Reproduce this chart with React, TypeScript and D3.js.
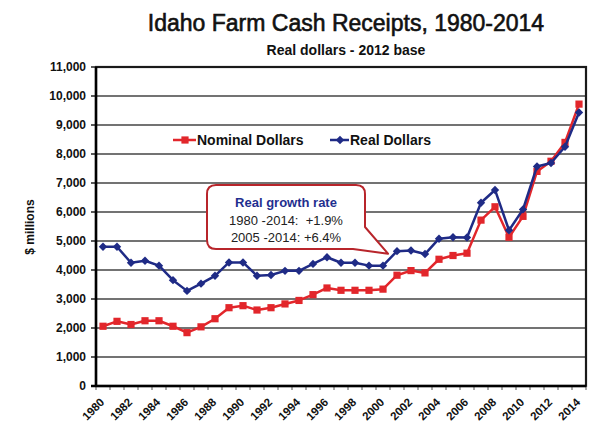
import React from 'react';
import * as d3 from 'd3';

const years = [1980, 1981, 1982, 1983, 1984, 1985, 1986, 1987, 1988, 1989, 1990, 1991, 1992, 1993, 1994, 1995, 1996, 1997, 1998, 1999, 2000, 2001, 2002, 2003, 2004, 2005, 2006, 2007, 2008, 2009, 2010, 2011, 2012, 2013, 2014];
const nominalDollars = [2060, 2230, 2120, 2250, 2250, 2060, 1840, 2040, 2320, 2700, 2770, 2620, 2700, 2830, 2950, 3150, 3380, 3300, 3300, 3300, 3340, 3820, 3980, 3900, 4370, 4500, 4580, 5720, 6180, 5130, 5850, 7400, 7750, 8400, 9720];
const realDollars = [4800, 4800, 4250, 4320, 4150, 3650, 3280, 3530, 3800, 4260, 4260, 3800, 3830, 3970, 3970, 4210, 4440, 4250, 4250, 4150, 4150, 4650, 4670, 4550, 5080, 5130, 5120, 6320, 6760, 5370, 6090, 7570, 7690, 8250, 9430];
const yTicks = [0, 1000, 2000, 3000, 4000, 5000, 6000, 7000, 8000, 9000, 10000, 11000];
const xLabelYears = [1980, 1982, 1984, 1986, 1988, 1990, 1992, 1994, 1996, 1998, 2000, 2002, 2004, 2006, 2008, 2010, 2012, 2014];
const titleText = 'Idaho Farm Cash Receipts, 1980-2014';
const subtitleText = 'Real dollars - 2012 base';
const seriesNames = ['Nominal Dollars', 'Real Dollars'];
const calloutLines = ['Real growth rate', '1980 -2014:  +1.9%', '2005 -2014: +6.4%'];

const W = 595;
const H = 429;
const PL = 96, PR = 586, PT = 67, PB = 386;
const FONT = "'Liberation Sans', Arial, Helvetica, sans-serif";
const RED = '#e2262b';
const BLUE = '#1f2b86';

const square = 'M-3.6,-3.6H3.6V3.6H-3.6Z';
const diamond = 'M0,-4.2L4.2,0L0,4.2L-4.2,0Z';

export default function App() {
  const x = d3.scaleBand<number>().domain(years).range([PL, PR]);
  const cx = (yr: number) => (x(yr) as number) + x.bandwidth() / 2;
  const y = d3.scaleLinear().domain([0, 11000]).range([PB, PT]);
  const line = d3
    .line<number>()
    .x((_, i) => cx(years[i]))
    .y((d) => y(d));

  const fmt = d3.format(',');

  // callout geometry
  const bx = 207, by = 185, bw = 158, bh = 64, r = 9;
  const tip = [cx(2000) + 5, y(4150) - 12];
  const calloutPath = [
    `M${bx + r},${by}`,
    `H${bx + bw - r}`,
    `Q${bx + bw},${by} ${bx + bw},${by + r}`,
    `V${by + bh - 22}`,
    `L${tip[0]},${tip[1]}`,
    `L${bx + bw - 12},${by + bh}`,
    `H${bx + r}`,
    `Q${bx},${by + bh} ${bx},${by + bh - r}`,
    `V${by + r}`,
    `Q${bx},${by} ${bx + r},${by}`,
    'Z',
  ].join(' ');

  return (
    <svg
      width={W}
      height={H}
      viewBox={`0 0 ${W} ${H}`}
      style={{ position: 'absolute', left: 0, top: 0, background: '#fff' }}
      fontFamily={FONT}
    >
      <rect x={0} y={0} width={W} height={H} fill="#fff" />
      {/* title */}
      <text x={346} y={31} textAnchor="middle" fontSize={23} fill="#111" stroke="#111" strokeWidth={0.6}>
        {titleText}
      </text>
      <text x={346} y={55} textAnchor="middle" fontSize={14} fontWeight="bold" fill="#111">
        {subtitleText}
      </text>

      {/* gridlines */}
      {yTicks
        .filter((t) => t > 0 && t < 11000)
        .map((t) => (
          <line key={'g' + t} x1={PL} x2={PR} y1={y(t)} y2={y(t)} stroke="#444" strokeWidth={1.6} />
        ))}
      {/* plot frame */}
      <rect x={PL} y={PT} width={PR - PL} height={PB - PT} fill="none" stroke="#1a1a1a" strokeWidth={2.2} />

      {/* y axis ticks & labels */}
      {yTicks.map((t) => (
        <g key={'y' + t}>
          <line x1={PL - 5} x2={PL} y1={y(t)} y2={y(t)} stroke="#222" strokeWidth={1.5} />
          <text x={86} y={y(t)} dy="0.35em" textAnchor="end" fontSize={12} fontWeight="bold" fill="#111">
            {fmt(t)}
          </text>
        </g>
      ))}
      <text
        transform={`translate(34,227) rotate(-90)`}
        textAnchor="middle"
        fontSize={12}
        fontWeight="bold"
        fill="#111"
      >
        $ millions
      </text>

      {/* x axis ticks */}
      {years.map((yr) => (
        <line
          key={'xt' + yr}
          x1={x(yr) as number}
          x2={x(yr) as number}
          y1={PB}
          y2={PB + 4}
          stroke="#555"
          strokeWidth={1}
        />
      ))}
      <line x1={PR} x2={PR} y1={PB} y2={PB + 4} stroke="#555" strokeWidth={1} />
      {/* thick axes */}
      <line x1={PL} x2={PL} y1={PT} y2={PB} stroke="#000" strokeWidth={2.5} />
      <line x1={PL - 5} x2={PR} y1={PB} y2={PB} stroke="#000" strokeWidth={2.5} />

      {xLabelYears.map((yr) => (
        <text
          key={'xl' + yr}
          transform={`translate(${cx(yr) + 2},${403}) rotate(-45)`}
          textAnchor="end"
          fontSize={11.5}
          fontWeight="bold"
          fill="#111"
        >
          {yr}
        </text>
      ))}

      {/* series */}
      <path d={line(nominalDollars) || ''} fill="none" stroke={RED} strokeWidth={2.5} strokeLinejoin="round" />
      {nominalDollars.map((v, i) => (
        <path key={'n' + i} d={square} transform={`translate(${cx(years[i])},${y(v)})`} fill={RED} />
      ))}
      <path d={line(realDollars) || ''} fill="none" stroke={BLUE} strokeWidth={2.5} strokeLinejoin="round" />
      {realDollars.map((v, i) => (
        <path key={'r' + i} d={diamond} transform={`translate(${cx(years[i])},${y(v)})`} fill={BLUE} />
      ))}

      {/* legend */}
      <g>
        <line x1={173} x2={196} y1={140} y2={140} stroke={RED} strokeWidth={2.5} />
        <path d={square} transform="translate(185,140)" fill={RED} />
        <text x={197} y={140} dy="0.36em" fontSize={14} fontWeight="bold" fill="#111">
          {seriesNames[0]}
        </text>
        <line x1={330} x2={349} y1={140} y2={140} stroke={BLUE} strokeWidth={2.5} />
        <path d={diamond} transform="translate(340,140)" fill={BLUE} />
        <text x={350} y={140} dy="0.36em" fontSize={14} fontWeight="bold" fill="#111">
          {seriesNames[1]}
        </text>
      </g>

      {/* callout */}
      <path d={calloutPath} fill="#fff" stroke="#b8252b" strokeWidth={2} strokeLinejoin="round" />
      <text x={bx + bw / 2} y={207} textAnchor="middle" fontSize={13} fontWeight="bold" fill="#1f2f8f">
        {calloutLines[0]}
      </text>
      <text x={bx + bw / 2} y={225} textAnchor="middle" fontSize={13} fill="#222" xmlSpace="preserve" style={{ whiteSpace: 'pre' }}>
        {calloutLines[1]}
      </text>
      <text x={bx + bw / 2} y={242} textAnchor="middle" fontSize={13} fill="#222">
        {calloutLines[2]}
      </text>
    </svg>
  );
}
